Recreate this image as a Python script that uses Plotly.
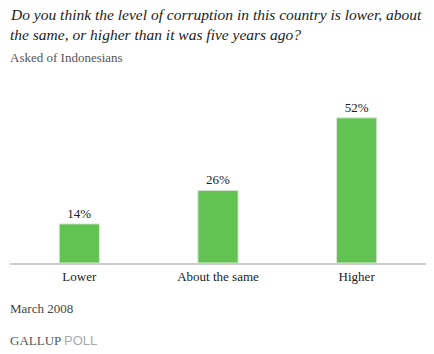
import plotly.graph_objects as go

categories = ["Lower", "About the same", "Higher"]
values = [14, 26, 52]
labels = ["14%", "26%", "52%"]

serif = "Liberation Serif"

fig = go.Figure(go.Bar(
    x=categories, y=values, text=labels, textposition="outside",
    textfont=dict(family=serif, size=13, color="#222"),
    marker=dict(color="#62C352", line=dict(color="#d8e8d4", width=1)),
    width=0.29, cliponaxis=False,
))

fig.update_layout(
    width=434, height=354,
    margin=dict(l=10, r=8, t=100, b=91),
    paper_bgcolor="white", plot_bgcolor="white",
    showlegend=False,
    xaxis=dict(showgrid=False, showline=True, linecolor="#cccccc", linewidth=2,
               ticks="", ticklabelstandoff=0,
               tickfont=dict(family=serif, size=13, color="#222")),
    yaxis=dict(range=[0, 58.4], showgrid=False, showticklabels=False,
               zeroline=False, showline=False),
    font=dict(family=serif),
)

title_lines = ["Do you think the level of corruption in this country is lower, about",
               "the same, or higher than it was five years ago?"]
for i, line in enumerate(title_lines):
    fig.add_annotation(xref="paper", yref="paper", x=-0.005, y=1, yshift=100 - 14 - 20 * i,
                       xanchor="left", yanchor="middle", align="left",
                       text="<i>" + line + "</i>",
                       showarrow=False, font=dict(family=serif, size=15.5, color="#222"))
fig.add_annotation(xref="paper", yref="paper", x=-0.005, y=1, yshift=100 - 57,
                   xanchor="left", yanchor="middle",
                   text="Asked of Indonesians", showarrow=False,
                   font=dict(family=serif, size=13, color="#555"))
fig.add_annotation(xref="paper", yref="paper", x=-0.005, y=0, yshift=-45,
                   xanchor="left", yanchor="middle",
                   text="March 2008", showarrow=False,
                   font=dict(family=serif, size=13, color="#444"))
fig.add_annotation(xref="paper", yref="paper", x=-0.005, y=0, yshift=-77,
                   xanchor="left", yanchor="middle",
                   text="<span style='color:#555'>GALLUP</span> <span style='font-family:Liberation Sans;color:#aaa'>POLL</span>",
                   showarrow=False,
                   font=dict(family=serif, size=13, color="#555"))

fig.write_html("out.html")
